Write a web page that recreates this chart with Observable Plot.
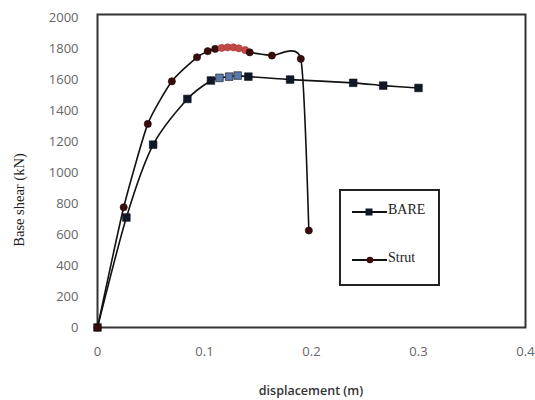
<!DOCTYPE html>
<html>
<head>
<meta charset="utf-8">
<script src="https://cdn.jsdelivr.net/npm/d3@7"></script>
<script src="https://cdn.jsdelivr.net/npm/@observablehq/plot@0.6"></script>
<style>
  html, body { margin: 0; padding: 0; background: #fff; }
  #chart svg { display: block; overflow: visible; }
</style>
</head>
<body>
<div id="chart"></div>
<script>
// Pushover curves: base shear vs roof displacement
const bareX = [0, 0.027, 0.052, 0.084, 0.106, 0.114, 0.123, 0.131, 0.141, 0.180, 0.239, 0.267, 0.300];
const bareY = [0, 710, 1180, 1475, 1594, 1611, 1619, 1626, 1619, 1600, 1579, 1561, 1546];

const strutX = [0, 0.0245, 0.047, 0.0695, 0.093, 0.103, 0.110, 0.116, 0.1216, 0.127, 0.132, 0.138, 0.1423, 0.163, 0.190, 0.1975];
const strutY = [0, 776, 1314, 1589, 1744, 1783, 1798, 1804, 1808, 1808, 1802, 1791, 1776, 1755, 1734, 626];

const seriesNames = ["BARE", "Strut"];
const xTicks = [0, 0.1, 0.2, 0.3, 0.4];
const yTicks = [0, 200, 400, 600, 800, 1000, 1200, 1400, 1600, 1800, 2000];
const xLabel = "displacement (m)";
const yLabel = "Base shear (kN)";

const bare = bareX.map((x, i) => ({x, y: bareY[i]}));
const strut = strutX.map((x, i) => ({x, y: strutY[i]}));

// points around the peak are drawn lighter
const nearPeak = d => d.x > 0.112 && d.x < 0.14;

const W = 535, H = 400;
const chart = Plot.plot({
  width: W,
  height: H,
  marginLeft: 97,
  marginRight: 10,
  marginTop: 14,
  marginBottom: 73,
  style: {fontFamily: "'Open Sans', sans-serif", background: "#fff"},
  x: {domain: [0, 0.4]},
  y: {domain: [0, 2020]},
  marks: [
    Plot.axisX({ticks: xTicks, tickSize: 0, tickPadding: 19, fontSize: 13, color: "#666",
      tickFormat: d => d === 0 ? "0" : String(d), label: null}),
    Plot.axisY({ticks: yTicks, tickSize: 0, tickPadding: 19, fontSize: 13, color: "#666",
      tickFormat: d => String(d), label: null}),
    Plot.frame({stroke: "#333", strokeWidth: 2}),
    Plot.line(bare, {x: "x", y: "y", curve: "cardinal", tension: 0.2, stroke: "#111", strokeWidth: 1.6}),
    Plot.line(strut, {x: "x", y: "y", curve: "cardinal", tension: 0.45, stroke: "#111", strokeWidth: 1.6}),
    Plot.dot(bare, {x: "x", y: "y", symbol: "square", r: 4.3,
      fill: d => nearPeak(d) ? "#5a78a8" : "#101828", stroke: "#0a0f1a", strokeWidth: 0.6}),
    Plot.dot(strut, {x: "x", y: "y", symbol: "circle", r: 3.6,
      fill: d => nearPeak(d) ? "#c24848" : "#3a0c0c", stroke: d => nearPeak(d) ? "#a83838" : "#200505", strokeWidth: 0.6})
  ]
});

document.getElementById("chart").appendChild(chart);

const svg = d3.select(chart);

// axis titles
svg.append("text")
  .attr("transform", "translate(21,200) rotate(-90)")
  .attr("text-anchor", "middle")
  .attr("dominant-baseline", "middle")
  .style("font-family", "'Liberation Serif', serif")
  .style("font-size", "14.5px")
  .style("fill", "#222")
  .text(yLabel);

svg.append("text")
  .attr("x", 311)
  .attr("y", 392)
  .attr("text-anchor", "middle")
  .attr("dominant-baseline", "middle")
  .style("font-family", "'Open Sans', sans-serif")
  .style("font-size", "12.5px")
  .style("font-weight", "600")
  .style("fill", "#333")
  .text(xLabel);

// legend box
const lg = svg.append("g");
lg.append("rect")
  .attr("x", 340).attr("y", 190).attr("width", 99).attr("height", 95)
  .attr("fill", "#fff").attr("stroke", "#222").attr("stroke-width", 2);

const legendItems = [
  {name: seriesNames[0], y: 212, symbol: "square"},
  {name: seriesNames[1], y: 260, symbol: "circle"}
];
legendItems.forEach(it => {
  lg.append("line").attr("x1", 352).attr("x2", 387).attr("y1", it.y).attr("y2", it.y)
    .attr("stroke", "#111").attr("stroke-width", 1.8);
  if (it.symbol === "square") {
    lg.append("rect").attr("x", 365.5).attr("y", it.y - 3.5).attr("width", 7).attr("height", 7)
      .attr("fill", "#101828");
  } else {
    lg.append("circle").attr("cx", 370).attr("cy", it.y).attr("r", 3.3).attr("fill", "#3a0c0c");
  }
  lg.append("text").attr("x", 388).attr("y", it.y - 1)
    .attr("text-anchor", "start")
    .attr("dominant-baseline", "middle")
    .style("font-family", "'Liberation Serif', serif")
    .style("font-size", "14px")
    .style("fill", "#222")
    .text(it.name);
});
</script>
</body>
</html>
